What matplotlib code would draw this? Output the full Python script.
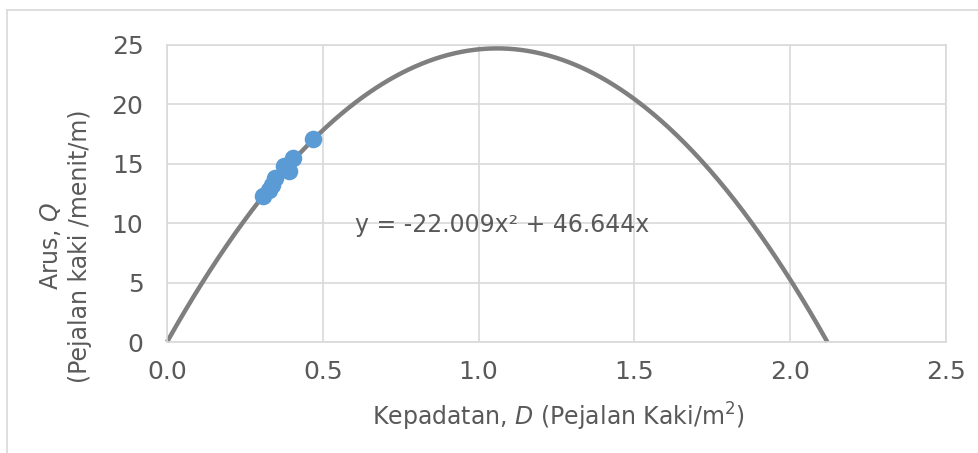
import numpy as np
import matplotlib
matplotlib.use("Agg")
import matplotlib.pyplot as plt
from matplotlib.lines import Line2D

# Data
density = [0.307, 0.326, 0.336, 0.347, 0.374, 0.393, 0.403, 0.470]
flow = [12.3, 12.8, 13.2, 13.8, 14.8, 14.4, 15.5, 17.1]
coef_a = -22.009
coef_b = 46.644
x_ticks = [0.0, 0.5, 1.0, 1.5, 2.0, 2.5]
y_ticks = [0, 5, 10, 15, 20, 25]
equation = "y = -22.009x² + 46.644x"

plt.rcParams['font.family'] = ['DejaVu Sans']
plt.rcParams['mathtext.fontset'] = 'custom'
plt.rcParams['mathtext.rm'] = 'DejaVu Sans'
plt.rcParams['mathtext.it'] = 'DejaVu Sans:italic'

txt = '#595959'
grid = '#d9d9d9'

fig = plt.figure(figsize=(9.79, 4.53), dpi=100)
ax = fig.add_axes([167/979, 1-342/453, (946-167)/979, (342-45)/453])

root = -coef_b / coef_a
xs = np.linspace(0, root, 400)
ax.plot(xs, coef_a*xs**2 + coef_b*xs, color='#7f7f7f', lw=3.2, zorder=2,
        solid_capstyle='butt', clip_on=False)
ax.scatter(density, flow, s=160, color='#5b9bd5', zorder=3, linewidths=0)

ax.set_xlim(0, 2.5)
ax.set_ylim(0, 25)
ax.set_xticks(x_ticks)
ax.set_xticklabels([f"{t:.1f}" for t in x_ticks])
ax.set_yticks(y_ticks)
ax.grid(True, color=grid, lw=1.2, zorder=0)
ax.set_axisbelow(True)
for s in ax.spines.values():
    s.set_color(grid)
    s.set_linewidth(1.2)
ax.tick_params(length=0, labelsize=18, colors=txt)
ax.tick_params(axis='x', pad=13)
ax.tick_params(axis='y', pad=17)

ax.text(0.604, 9.85, equation, fontsize=17, color=txt, va='center', ha='left')

fig.text(558/979, 1-417/453, r"Kepadatan, $\mathit{D}$ (Pejalan Kaki/m$^2$)",
         fontsize=17, color=txt, ha='center', va='center')
fig.text(65/979, 1-246/453, "Arus, $\\mathit{Q}$\n(Pejalan kaki /menit/m)",
         fontsize=17, color=txt, ha='center', va='center', rotation=90,
         linespacing=1.25)

# outer chart border (cropped)
fig.add_artist(Line2D([7/979, 1.0], [1-10/453, 1-10/453], transform=fig.transFigure,
                      color=grid, lw=1.2))
fig.add_artist(Line2D([7/979, 7/979], [0, 1-10/453], transform=fig.transFigure,
                      color=grid, lw=1.2))

fig.savefig('out.png', dpi=100)
